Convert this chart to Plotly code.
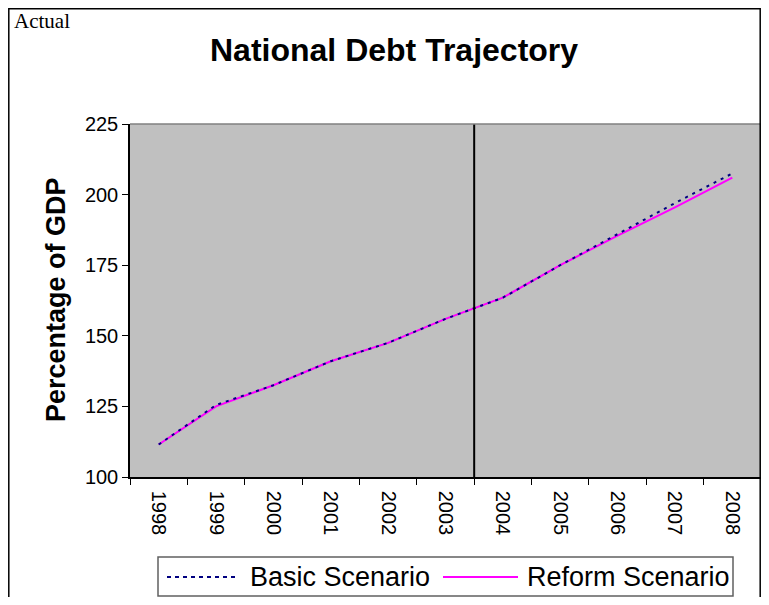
import plotly.graph_objects as go

years = ["1998", "1999", "2000", "2001", "2002", "2003", "2004", "2005", "2006", "2007", "2008"]
basic_scenario = [111.5, 125.5, 132.5, 141.0, 147.5, 156.0, 163.5, 175.0, 186.0, 197.0, 207.5]
reform_scenario = [111.5, 125.0, 132.5, 141.0, 147.5, 156.0, 163.5, 175.0, 185.5, 195.5, 206.0]
y_ticks = [100, 125, 150, 175, 200, 225]

# the page body adds an 8px margin on every side; keep the figure inside the window
OFF = 8
W, H = 769 - 2 * OFF, 605 - 2 * OFF
L, R, T, B = 130 - OFF, 761 - OFF, 124 - OFF, 477 - OFF   # plot area in figure pixels


def px(x):
    # x given in page pixels
    return (x - OFF - L) / (R - L)


def py(y):
    return (B - (y - OFF)) / (B - T)


fig = go.Figure()

# reform drawn first so the dotted basic line sits on top, as in the original
fig.add_trace(go.Scatter(
    x=years, y=reform_scenario, name="Reform Scenario", mode="lines",
    line=dict(color="#FF00FF", width=2)
))
fig.add_trace(go.Scatter(
    x=years, y=basic_scenario, name="Basic Scenario", mode="lines",
    line=dict(color="#000080", width=2, dash="3px,5px")
))

shapes = [
    # divider between actual and projected years
    dict(type="line", xref="x", yref="y", x0=5.5, x1=5.5, y0=100, y1=225,
         line=dict(color="black", width=2)),
    # grey border on top/right of plot area
    dict(type="line", xref="paper", yref="paper", x0=0, x1=1, y0=1, y1=1,
         line=dict(color="#808080", width=1.5)),
    dict(type="line", xref="paper", yref="paper", x0=1, x1=1, y0=0, y1=1,
         line=dict(color="#808080", width=1.5)),
    # outer chart frame
    dict(type="rect", xref="paper", yref="paper",
         x0=px(8.8), x1=px(760.2), y0=py(620), y1=py(8.8),
         line=dict(color="black", width=1.5)),
    # legend box and samples
    dict(type="rect", xref="paper", yref="paper",
         x0=px(158), x1=px(733), y0=py(596), y1=py(557),
         line=dict(color="#606060", width=1.5), fillcolor="white"),
    dict(type="line", xref="paper", yref="paper", x0=px(167), x1=px(239), y0=py(577), y1=py(577),
         line=dict(color="#000080", width=2, dash="4px,4px")),
    dict(type="line", xref="paper", yref="paper", x0=px(443), x1=px(518), y0=py(577), y1=py(577),
         line=dict(color="#FF00FF", width=2)),
]

annotations = [
    dict(text="<b>National Debt Trajectory</b>", xref="paper", yref="paper",
         x=px(394), y=py(50), xanchor="center", yanchor="middle",
         showarrow=False, font=dict(size=32)),
    dict(text="<b>Percentage of GDP</b>", xref="paper", yref="paper",
         x=px(56), y=py(300), xanchor="center", yanchor="middle", textangle=-90,
         showarrow=False, font=dict(size=27)),
    dict(text="Actual", xref="paper", yref="paper",
         x=px(12), y=py(21), xanchor="left", yanchor="middle",
         showarrow=False, font=dict(size=21, family="Liberation Serif, Times New Roman")),
    dict(text="Basic Scenario", xref="paper", yref="paper",
         x=px(248), y=py(577), xanchor="left", yanchor="middle",
         showarrow=False, font=dict(size=27)),
    dict(text="Reform Scenario", xref="paper", yref="paper",
         x=px(525), y=py(577), xanchor="left", yanchor="middle",
         showarrow=False, font=dict(size=27)),
]

fig.update_layout(
    width=W, height=H,
    margin=dict(l=L, r=W - R, t=T, b=H - B, autoexpand=False),
    paper_bgcolor="white", plot_bgcolor="#C0C0C0",
    font=dict(family="Liberation Sans, Arial", color="black"),
    showlegend=False,
    shapes=shapes,
    annotations=annotations,
)

fig.update_xaxes(
    type="category", tickangle=90, tickson="boundaries",
    ticks="outside", ticklen=6, tickcolor="black", ticklabelstandoff=8,
    showline=True, linecolor="black", linewidth=1.5,
    showgrid=False, tickfont=dict(size=20),
    range=[-0.5, 10.5]
)
fig.update_yaxes(
    range=[100, 225], tickvals=y_ticks, ticks="outside", ticklen=6, tickcolor="black",
    showline=True, linecolor="black", linewidth=1.5, showgrid=False,
    zeroline=False, tickfont=dict(size=20)
)

fig.write_html("out.html")
